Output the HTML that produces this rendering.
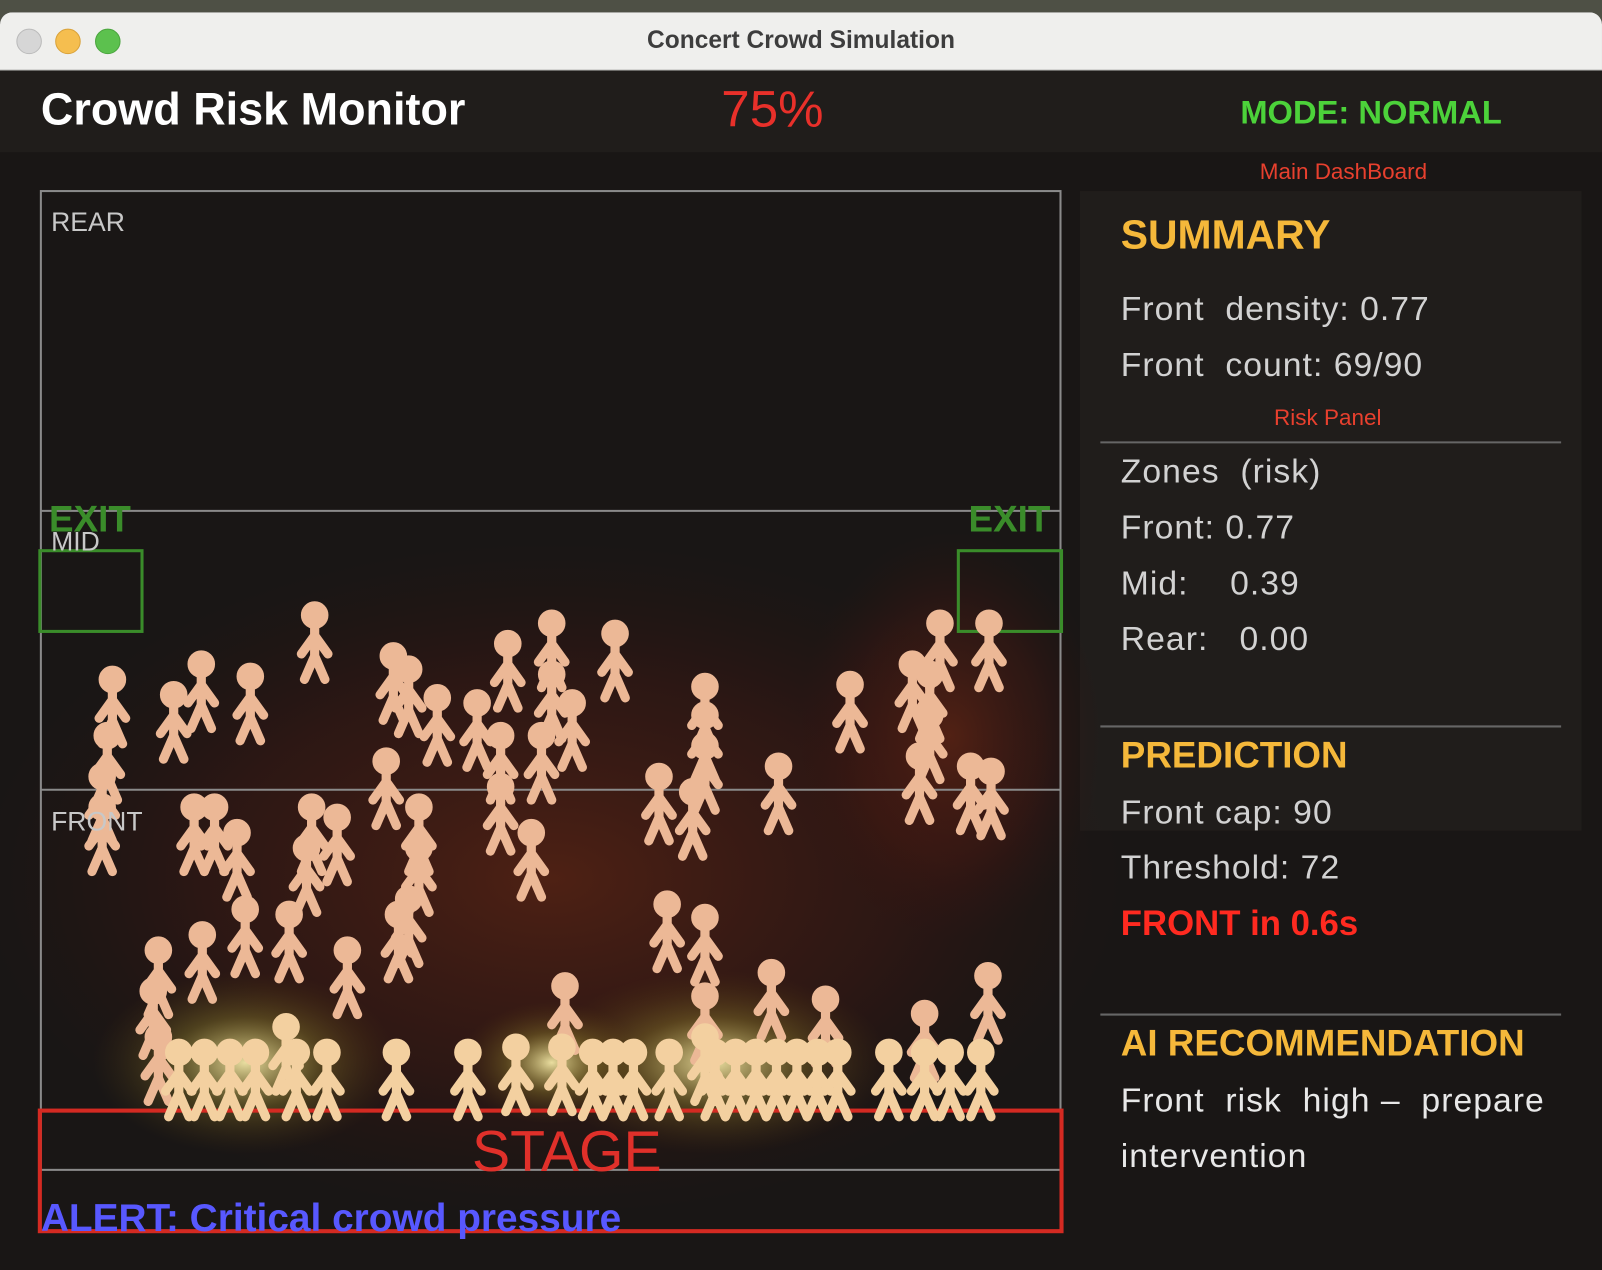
<!DOCTYPE html>
<html><head><meta charset="utf-8"><style>
html,body{margin:0;padding:0;background:#4e5045;overflow:hidden;width:1602px;height:1270px}
#w{position:absolute;left:0;top:0;width:1568px;height:1243px;transform:scale(1.02168,1.02172);transform-origin:0 0}
.t{position:absolute;white-space:nowrap;font-family:"Liberation Sans",sans-serif}
</style></head><body><div id="w">
<div style="position:absolute;left:0;top:12px;width:1568px;height:1231px;background:#191615;border-radius:12px 12px 0 0;overflow:hidden">
 <div style="position:absolute;left:0;top:0;width:1568px;height:56px;background:#efefed;border-bottom:1px solid #bbb"></div>
 <div style="position:absolute;left:16px;top:16px;width:23px;height:23px;border-radius:50%;background:#d6d6d6;border:1px solid #bbb"></div>
 <div style="position:absolute;left:54px;top:16px;width:23px;height:23px;border-radius:50%;background:#f5be4f;border:1px solid #d9a23a"></div>
 <div style="position:absolute;left:93px;top:16px;width:23px;height:23px;border-radius:50%;background:#5cc14e;border:1px solid #4aa53e"></div>
 <div class="t" style="left:0;width:1568px;text-align:center;top:14px;font-size:24px;font-weight:bold;color:#3d3d3d">Concert Crowd Simulation</div>
 <div style="position:absolute;left:0;top:57px;width:1568px;height:80px;background:#201d1b"></div>
</div>
<div class="t" style="left:40px;top:83px;font-size:44px;font-weight:bold;color:#fff">Crowd Risk Monitor</div>
<div class="t" style="left:706px;top:78px;font-size:50px;color:#e8302a">75%</div>
<div class="t" style="left:1214px;top:92px;font-size:32px;font-weight:bold;color:#4cd23a">MODE: NORMAL</div>
<div class="t" style="left:1233px;top:155px;font-size:22px;color:#e8402e">Main DashBoard</div>

<div style="position:absolute;left:1057px;top:187px;width:491px;height:626px;background:#201d1b"></div>
<svg style="position:absolute;left:0;top:0" width="1568" height="1243">
<defs>
 <radialGradient id="rg"><stop offset="0" stop-color="#7a2a14" stop-opacity=".55"/><stop offset=".6" stop-color="#5a1a10" stop-opacity=".3"/><stop offset="1" stop-color="#3a1010" stop-opacity="0"/></radialGradient>
 <radialGradient id="yg"><stop offset="0" stop-color="#fff4b0" stop-opacity=".9"/><stop offset=".5" stop-color="#a09030" stop-opacity=".35"/><stop offset="1" stop-color="#604010" stop-opacity="0"/></radialGradient>
 <g id="f"><circle cx="0" cy="0" r="13"/><path d="M0 10V40M0 20L-13 38M0 20L13 38M0 40L-10 63M0 40L10 63" stroke-width="9" stroke-linecap="round" fill="none"/></g>
</defs>
<ellipse cx="540" cy="860" rx="560" ry="330" fill="url(#rg)"/>
<ellipse cx="930" cy="720" rx="150" ry="200" fill="url(#rg)"/>
<ellipse cx="240" cy="1040" rx="150" ry="90" fill="url(#yg)"/>
<ellipse cx="700" cy="1040" rx="170" ry="90" fill="url(#yg)"/>
<ellipse cx="540" cy="1040" rx="90" ry="60" fill="url(#yg)"/>
<g fill="none" stroke="#8a8a8a" stroke-width="2">
 <rect x="40" y="187" width="998" height="958"/>
 <line x1="40" y1="500" x2="1038" y2="500"/><line x1="40" y1="773" x2="1038" y2="773"/><line x1="40" y1="1087" x2="1038" y2="1087"/>
 <line x1="1077" y1="433" x2="1528" y2="433" stroke="#666"/><line x1="1077" y1="711" x2="1528" y2="711" stroke="#666"/><line x1="1077" y1="993" x2="1528" y2="993" stroke="#666"/>
</g>
<rect x="39" y="1087" width="1000" height="118" fill="none" stroke="#d42a22" stroke-width="4"/>
<rect x="39" y="539" width="100" height="79" fill="none" stroke="#3a8c2a" stroke-width="3"/>
<rect x="938" y="539" width="101" height="79" fill="none" stroke="#3a8c2a" stroke-width="3"/>
<g fill="#ecb896" stroke="#ecb896">
<use href="#f" x="110" y="665"/><use href="#f" x="105" y="720"/><use href="#f" x="100" y="760"/><use href="#f" x="170" y="680"/><use href="#f" x="197" y="650"/><use href="#f" x="245" y="662"/><use href="#f" x="308" y="602"/><use href="#f" x="385" y="642"/><use href="#f" x="400" y="655"/><use href="#f" x="428" y="683"/><use href="#f" x="467" y="688"/><use href="#f" x="497" y="630"/><use href="#f" x="490" y="720"/><use href="#f" x="540" y="610"/><use href="#f" x="540" y="660"/><use href="#f" x="560" y="688"/><use href="#f" x="530" y="720"/><use href="#f" x="602" y="620"/><use href="#f" x="690" y="672"/><use href="#f" x="690" y="700"/><use href="#f" x="690" y="730"/><use href="#f" x="832" y="670"/><use href="#f" x="893" y="650"/><use href="#f" x="920" y="610"/><use href="#f" x="968" y="610"/><use href="#f" x="910" y="660"/><use href="#f" x="910" y="700"/><use href="#f" x="900" y="740"/><use href="#f" x="950" y="750"/><use href="#f" x="970" y="755"/><use href="#f" x="378" y="745"/><use href="#f" x="490" y="770"/><use href="#f" x="645" y="760"/><use href="#f" x="678" y="775"/><use href="#f" x="762" y="750"/>
<use href="#f" x="100" y="790"/><use href="#f" x="190" y="790"/><use href="#f" x="210" y="790"/><use href="#f" x="232" y="815"/><use href="#f" x="305" y="790"/><use href="#f" x="330" y="800"/><use href="#f" x="300" y="830"/><use href="#f" x="410" y="790"/><use href="#f" x="410" y="830"/><use href="#f" x="520" y="815"/><use href="#f" x="400" y="880"/><use href="#f" x="390" y="895"/><use href="#f" x="240" y="890"/><use href="#f" x="283" y="895"/><use href="#f" x="198" y="915"/><use href="#f" x="155" y="930"/><use href="#f" x="150" y="970"/><use href="#f" x="340" y="930"/><use href="#f" x="653" y="885"/><use href="#f" x="690" y="898"/><use href="#f" x="553" y="965"/><use href="#f" x="690" y="975"/><use href="#f" x="755" y="952"/><use href="#f" x="808" y="978"/><use href="#f" x="905" y="992"/><use href="#f" x="967" y="955"/><use href="#f" x="155" y="1015"/>
</g>
<g fill="#f3d0a0" stroke="#f3d0a0">
<use href="#f" x="280" y="1005"/><use href="#f" x="320" y="1030"/><use href="#f" x="388" y="1030"/><use href="#f" x="458" y="1030"/><use href="#f" x="505" y="1025"/><use href="#f" x="550" y="1025"/><use href="#f" x="580" y="1030"/><use href="#f" x="600" y="1030"/><use href="#f" x="620" y="1030"/><use href="#f" x="655" y="1030"/><use href="#f" x="690" y="1015"/><use href="#f" x="700" y="1030"/><use href="#f" x="720" y="1030"/><use href="#f" x="740" y="1030"/><use href="#f" x="760" y="1030"/><use href="#f" x="780" y="1030"/><use href="#f" x="800" y="1030"/><use href="#f" x="820" y="1030"/><use href="#f" x="870" y="1030"/><use href="#f" x="905" y="1030"/><use href="#f" x="930" y="1030"/><use href="#f" x="960" y="1030"/><use href="#f" x="175" y="1030"/><use href="#f" x="200" y="1030"/><use href="#f" x="225" y="1030"/><use href="#f" x="250" y="1030"/><use href="#f" x="290" y="1030"/>
</g>
</svg>
<div class="t" style="left:50px;top:202px;font-size:26px;color:#c8c8c8">REAR</div>
<div class="t" style="left:50px;top:515px;font-size:26px;color:#c8c8c8">MID</div>
<div class="t" style="left:50px;top:789px;font-size:26px;color:#c8c8c8">FRONT</div>
<div class="t" style="left:48px;top:487px;font-size:36px;font-weight:bold;color:#3a8c2a">EXIT</div>
<div class="t" style="left:948px;top:487px;font-size:36px;font-weight:bold;color:#3a8c2a">EXIT</div>
<div class="t" style="left:462px;top:1094px;font-size:56px;color:#e0302a">STAGE</div>
<div class="t" style="left:40px;top:1172px;font-size:38px;font-weight:bold;color:#5858ff">ALERT: Critical crowd pressure</div>

<div class="t" style="left:1097px;top:208px;font-size:40px;font-weight:bold;color:#f5b83a">SUMMARY</div>
<div class="t" style="left:1097px;top:283px;font-size:33px;color:#d2d2d2;letter-spacing:1px">Front &nbsp;density: 0.77</div>
<div class="t" style="left:1097px;top:338px;font-size:33px;color:#d2d2d2;letter-spacing:1px">Front &nbsp;count: 69/90</div>
<div class="t" style="left:1247px;top:396px;font-size:22px;color:#e8402e">Risk Panel</div>
<div class="t" style="left:1097px;top:442px;font-size:33px;color:#d2d2d2;letter-spacing:1px">Zones &nbsp;(risk)</div>
<div class="t" style="left:1097px;top:497px;font-size:33px;color:#d2d2d2;letter-spacing:1px">Front: 0.77</div>
<div class="t" style="left:1097px;top:552px;font-size:33px;color:#d2d2d2;letter-spacing:1px">Mid: &nbsp; &nbsp;0.39</div>
<div class="t" style="left:1097px;top:606px;font-size:33px;color:#d2d2d2;letter-spacing:1px">Rear: &nbsp; 0.00</div>
<div class="t" style="left:1097px;top:718px;font-size:36px;font-weight:bold;color:#f5b83a">PREDICTION</div>
<div class="t" style="left:1097px;top:776px;font-size:33px;color:#d2d2d2;letter-spacing:1px">Front cap: 90</div>
<div class="t" style="left:1097px;top:830px;font-size:33px;color:#d2d2d2;letter-spacing:1px">Threshold: 72</div>
<div class="t" style="left:1097px;top:885px;font-size:34px;font-weight:bold;color:#ff2a20">FRONT in 0.6s</div>
<div class="t" style="left:1097px;top:1000px;font-size:36px;font-weight:bold;color:#f5b83a">AI RECOMMENDATION</div>
<div class="t" style="left:1097px;top:1058px;font-size:33px;color:#e8e8e8;letter-spacing:1px">Front &nbsp;risk &nbsp;high – &nbsp;prepare</div>
<div class="t" style="left:1097px;top:1112px;font-size:33px;color:#e8e8e8;letter-spacing:1px">intervention</div>
</div></body></html>
